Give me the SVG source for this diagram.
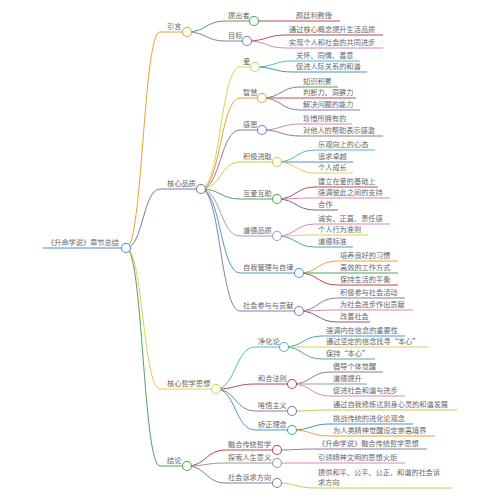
<svg xmlns="http://www.w3.org/2000/svg" width="500" height="500" viewBox="0 0 500 500">
<style>
text{font-family:"Noto Sans CJK SC","Noto Sans",sans-serif;font-size:7.2px;fill:#666}
path,line{fill:none;stroke-width:1}
circle{fill:#fff;stroke-width:1.1}
.blue{stroke:#4f8fb5}.orange{stroke:#e6a23c}.slate{stroke:#6f7ea8}.yellow{stroke:#dccf55}
.green{stroke:#55a05a}.red{stroke:#b84c52}.pink{stroke:#d48ab2}.purple{stroke:#8a7ca6}
.dpurple{stroke:#7a6090}.cyan{stroke:#4fb8cc}.teal{stroke:#4aa0b8}.ygreen{stroke:#c4cc55}
.grey{stroke:#999}.tgreen{stroke:#5aa8a0}.lpurple{stroke:#a898c0}
</style>
<rect width="500" height="500" fill="#fff"/>
<g id="connectors">
<path class="orange" d="M126,248 C143,248 143,32 160,32"/>
<path class="slate" d="M126,248 C143,248 143,189 160,189"/>
<path class="yellow" d="M126,248 C143,248 143,389 160,389"/>
<path class="green" d="M126,248 C143,248 143,466 160,466"/>
<path class="green" d="M187,32 C206,32 206,21 225,21"/>
<path class="purple" d="M187,32 C206,32 206,41 225,41"/>
<path class="red" d="M254,21 L293,21"/>
<path class="red" d="M247,41 C266.5,41 266.5,35 286,35"/>
<path class="pink" d="M247,41 C266.5,41 266.5,48 286,48"/>
<path class="yellow" d="M201,189 C220.5,189 220.5,67 240,67"/>
<path class="orange" d="M201,189 C220.5,189 220.5,98 240,98"/>
<path class="purple" d="M201,189 C220.5,189 220.5,130 240,130"/>
<path class="ygreen" d="M201,189 C220.5,189 220.5,162 240,162"/>
<path class="green" d="M201,189 C220.5,189 220.5,199 240,199"/>
<path class="lpurple" d="M201,189 C220.5,189 220.5,236 240,236"/>
<path class="teal" d="M201,189 C220.5,189 220.5,273 240,273"/>
<path class="purple" d="M201,189 C220.5,189 220.5,311 240,311"/>
<path class="cyan" d="M255,67 C274,67 274,61 293,61"/>
<path class="blue" d="M255,67 C274,67 274,72 293,72"/>
<path class="green" d="M262,98 C281,98 281,87 300,87"/>
<path class="red" d="M262,98 C281,98 281,98 300,98"/>
<path class="purple" d="M262,98 C281,98 281,110 300,110"/>
<path class="pink" d="M262,130 C281,130 281,124 300,124"/>
<path class="purple" d="M262,130 C281,130 281,136 300,136"/>
<path class="cyan" d="M277,162 C296,162 296,150 315,150"/>
<path class="blue" d="M277,162 C296,162 296,162 315,162"/>
<path class="yellow" d="M277,162 C296,162 296,173 315,173"/>
<path class="red" d="M277,199 C296,199 296,187 315,187"/>
<path class="pink" d="M277,199 C296,199 296,198 315,198"/>
<path class="dpurple" d="M277,199 C296,199 296,210 315,210"/>
<path class="pink" d="M277,236 C296,236 296,224 315,224"/>
<path class="yellow" d="M277,236 C296,236 296,235 315,235"/>
<path class="teal" d="M277,236 C296,236 296,247 315,247"/>
<path class="orange" d="M299,273 C318,273 318,261 337,261"/>
<path class="green" d="M299,273 C318,273 318,273 337,273"/>
<path class="red" d="M299,273 C318,273 318,285 337,285"/>
<path class="purple" d="M299,311 C318,311 318,298 337,298"/>
<path class="pink" d="M299,311 C318,311 318,310 337,310"/>
<path class="dpurple" d="M299,311 C318,311 318,322 337,322"/>
<path class="cyan" d="M216,389 C235.5,389 235.5,347 255,347"/>
<path class="red" d="M216,389 C235.5,389 235.5,384 255,384"/>
<path class="purple" d="M216,389 C235.5,389 235.5,411 255,411"/>
<path class="teal" d="M216,389 C235.5,389 235.5,430 255,430"/>
<path class="teal" d="M284,347 C303,347 303,336 322,336"/>
<path class="yellow" d="M284,347 C303,347 303,347 322,347"/>
<path class="tgreen" d="M284,347 C303,347 303,359 322,359"/>
<path class="purple" d="M292,384 C311,384 311,372 330,372"/>
<path class="grey" d="M292,384 C311,384 311,384 330,384"/>
<path class="pink" d="M292,384 C311,384 311,396 330,396"/>
<path class="ygreen" d="M292,411 C311,411 311,410 330,410"/>
<path class="blue" d="M292,430 C311,430 311,424 330,424"/>
<path class="orange" d="M292,430 C311,430 311,436 330,436"/>
<path class="red" d="M187,466 C206,466 206,450 225,450"/>
<path class="grey" d="M187,466 C206,466 206,463 225,463"/>
<path class="purple" d="M187,466 C206,466 206,483 225,483"/>
<path class="purple" d="M277,450 C296,450 296,449 315,449"/>
<path class="pink" d="M277,463 C296,463 296,463 315,463"/>
<path class="ygreen" d="M277,483 C296,483 296,488 315,488"/>
</g>
<g id="root"><line class="blue" x1="43" y1="248" x2="121.5" y2="248"/><circle class="blue" cx="126" cy="248" r="4.5"/><text x="83" y="245" text-anchor="middle">《升命学说》章节总结</text></g>
<g id="n-yinyan"><line class="orange" x1="160" y1="32" x2="182.5" y2="32"/><circle class="orange" cx="187" cy="32" r="4.5"/><text x="167" y="29">引言</text></g>
<g id="n-tichuzhe"><line class="green" x1="225" y1="21" x2="249.5" y2="21"/><circle class="green" cx="254" cy="21" r="4.5"/><text x="228" y="18">提出者</text></g>
<g id="n-yan"><line class="red" x1="293" y1="21" x2="340" y2="21"/><text x="296" y="18">颜廷利教授</text></g>
<g id="n-mubiao"><line class="purple" x1="225" y1="41" x2="242.5" y2="41"/><circle class="purple" cx="247" cy="41" r="4.5"/><text x="228" y="38">目标</text></g>
<g id="n-mb1"><line class="red" x1="286" y1="35" x2="383" y2="35"/><text x="289" y="32">通过核心概念提升生活品质</text></g>
<g id="n-mb2"><line class="pink" x1="286" y1="48" x2="383" y2="48"/><text x="289" y="45">实现个人和社会的共同进步</text></g>
<g id="n-hexin"><line class="slate" x1="160" y1="189" x2="196.5" y2="189"/><circle class="slate" cx="201" cy="189" r="4.5"/><text x="167" y="186">核心品质</text></g>
<g id="n-ai"><line class="yellow" x1="240" y1="67" x2="250.5" y2="67"/><circle class="yellow" cx="255" cy="67" r="4.5"/><text x="243" y="64">爱</text></g>
<g id="n-ai1"><line class="cyan" x1="293" y1="61" x2="360" y2="61"/><text x="296" y="58">关怀、同情、善意</text></g>
<g id="n-ai2"><line class="blue" x1="293" y1="72" x2="367" y2="72"/><text x="296" y="69">促进人际关系的和谐</text></g>
<g id="n-zh"><line class="orange" x1="240" y1="98" x2="257.5" y2="98"/><circle class="orange" cx="262" cy="98" r="4.5"/><text x="243" y="95">智慧</text></g>
<g id="n-zh1"><line class="green" x1="300" y1="87" x2="338" y2="87"/><text x="303" y="84">知识积累</text></g>
<g id="n-zh2"><line class="red" x1="300" y1="98" x2="356" y2="98"/><text x="303" y="95">判断力、洞察力</text></g>
<g id="n-zh3"><line class="purple" x1="300" y1="110" x2="360" y2="110"/><text x="303" y="107">解决问题的能力</text></g>
<g id="n-ge"><line class="purple" x1="240" y1="130" x2="257.5" y2="130"/><circle class="purple" cx="262" cy="130" r="4.5"/><text x="243" y="127">感恩</text></g>
<g id="n-ge1"><line class="pink" x1="300" y1="124" x2="352" y2="124"/><text x="303" y="121">珍惜所拥有的</text></g>
<g id="n-ge2"><line class="purple" x1="300" y1="136" x2="383" y2="136"/><text x="303" y="133">对他人的帮助表示感激</text></g>
<g id="n-jj"><line class="ygreen" x1="240" y1="162" x2="272.5" y2="162"/><circle class="ygreen" cx="277" cy="162" r="4.5"/><text x="243" y="159">积极进取</text></g>
<g id="n-jj1"><line class="cyan" x1="315" y1="150" x2="375" y2="150"/><text x="318" y="147">乐观向上的心态</text></g>
<g id="n-jj2"><line class="blue" x1="315" y1="162" x2="353" y2="162"/><text x="318" y="159">追求卓越</text></g>
<g id="n-jj3"><line class="yellow" x1="315" y1="173" x2="353" y2="173"/><text x="318" y="170">个人成长</text></g>
<g id="n-ha"><line class="green" x1="240" y1="199" x2="272.5" y2="199"/><circle class="green" cx="277" cy="199" r="4.5"/><text x="243" y="196">互爱互助</text></g>
<g id="n-ha1"><line class="red" x1="315" y1="187" x2="378" y2="187"/><text x="318" y="184">建立在爱的基础上</text></g>
<g id="n-ha2"><line class="pink" x1="315" y1="198" x2="390" y2="198"/><text x="318" y="195">强调彼此之间的支持</text></g>
<g id="n-ha3"><line class="dpurple" x1="315" y1="210" x2="338" y2="210"/><text x="318" y="207">合作</text></g>
<g id="n-dd"><line class="lpurple" x1="240" y1="236" x2="272.5" y2="236"/><circle class="lpurple" cx="277" cy="236" r="4.5"/><text x="243" y="233">道德品质</text></g>
<g id="n-dd1"><line class="pink" x1="315" y1="224" x2="390" y2="224"/><text x="318" y="221">诚实、正直、责任感</text></g>
<g id="n-dd2"><line class="yellow" x1="315" y1="235" x2="368" y2="235"/><text x="318" y="232">个人行为准则</text></g>
<g id="n-dd3"><line class="teal" x1="315" y1="247" x2="353" y2="247"/><text x="318" y="244">道德标准</text></g>
<g id="n-zw"><line class="teal" x1="240" y1="273" x2="294.5" y2="273"/><circle class="teal" cx="299" cy="273" r="4.5"/><text x="243" y="270">自我管理与自律</text></g>
<g id="n-zw1"><line class="orange" x1="337" y1="261" x2="398" y2="261"/><text x="340" y="258">培养良好的习惯</text></g>
<g id="n-zw2"><line class="green" x1="337" y1="273" x2="398" y2="273"/><text x="340" y="270">高效的工作方式</text></g>
<g id="n-zw3"><line class="red" x1="337" y1="285" x2="398" y2="285"/><text x="340" y="282">保持生活的平衡</text></g>
<g id="n-sh"><line class="purple" x1="240" y1="311" x2="294.5" y2="311"/><circle class="purple" cx="299" cy="311" r="4.5"/><text x="243" y="308">社会参与与贡献</text></g>
<g id="n-sh1"><line class="purple" x1="337" y1="298" x2="405" y2="298"/><text x="340" y="295">积极参与社会活动</text></g>
<g id="n-sh2"><line class="pink" x1="337" y1="310" x2="413" y2="310"/><text x="340" y="307">为社会进步作出贡献</text></g>
<g id="n-sh3"><line class="dpurple" x1="337" y1="322" x2="370" y2="322"/><text x="340" y="319">改善社会</text></g>
<g id="n-zx"><line class="yellow" x1="160" y1="389" x2="211.5" y2="389"/><circle class="yellow" cx="216" cy="389" r="4.5"/><text x="167" y="386">核心哲学思想</text></g>
<g id="n-jh"><line class="cyan" x1="255" y1="347" x2="279.5" y2="347"/><circle class="cyan" cx="284" cy="347" r="4.5"/><text x="258" y="344">净化论</text></g>
<g id="n-jh1"><line class="teal" x1="322" y1="336" x2="405" y2="336"/><text x="326" y="333">强调内在信念的重要性</text></g>
<g id="n-jh2"><line class="yellow" x1="322" y1="347" x2="428" y2="347"/><text x="326" y="344">通过坚定的信念找寻“本心”</text></g>
<g id="n-jh3"><line class="tgreen" x1="322" y1="359" x2="375" y2="359"/><text x="326" y="356">保持“本心”</text></g>
<g id="n-hh"><line class="red" x1="255" y1="384" x2="287.5" y2="384"/><circle class="red" cx="292" cy="384" r="4.5"/><text x="258" y="381">和合法则</text></g>
<g id="n-hh1"><line class="purple" x1="330" y1="372" x2="383" y2="372"/><text x="333" y="369">倡导个体觉醒</text></g>
<g id="n-hh2"><line class="grey" x1="330" y1="384" x2="367" y2="384"/><text x="333" y="381">道德提升</text></g>
<g id="n-hh3"><line class="pink" x1="330" y1="396" x2="405" y2="396"/><text x="333" y="393">促进社会和谐与进步</text></g>
<g id="n-ww"><line class="purple" x1="255" y1="411" x2="287.5" y2="411"/><circle class="purple" cx="292" cy="411" r="4.5"/><text x="258" y="408">唯悟主义</text></g>
<g id="n-ww1"><line class="ygreen" x1="330" y1="410" x2="457" y2="410"/><text x="333" y="407">通过自我修炼达到身心灵的和谐发展</text></g>
<g id="n-jz"><line class="teal" x1="255" y1="430" x2="287.5" y2="430"/><circle class="teal" cx="292" cy="430" r="4.5"/><text x="258" y="427">矫正理念</text></g>
<g id="n-jz1"><line class="blue" x1="330" y1="424" x2="413" y2="424"/><text x="333" y="421">挑战传统的进化论观念</text></g>
<g id="n-jz2"><line class="orange" x1="330" y1="436" x2="435" y2="436"/><text x="333" y="433">为人类精神觉醒设定崇高境界</text></g>
<g id="n-jl"><line class="green" x1="160" y1="466" x2="182.5" y2="466"/><circle class="green" cx="187" cy="466" r="4.5"/><text x="167" y="463">结论</text></g>
<g id="n-rh"><line class="red" x1="225" y1="450" x2="272.5" y2="450"/><circle class="red" cx="277" cy="450" r="4.5"/><text x="228" y="447">融合传统哲学</text></g>
<g id="n-rh1"><line class="purple" x1="315" y1="449" x2="427" y2="449"/><text x="318" y="446">《升命学说》融合传统哲学思想</text></g>
<g id="n-ts"><line class="grey" x1="225" y1="463" x2="272.5" y2="463"/><circle class="grey" cx="277" cy="463" r="4.5"/><text x="228" y="460">探索人生意义</text></g>
<g id="n-ts1"><line class="pink" x1="315" y1="463" x2="405" y2="463"/><text x="318" y="460">引领精神文明的思想火炬</text></g>
<g id="n-ss"><line class="purple" x1="225" y1="483" x2="272.5" y2="483"/><circle class="purple" cx="277" cy="483" r="4.5"/><text x="228" y="480">社会诉求方向</text></g>
<g id="n-ss1"><line class="ygreen" x1="315" y1="488" x2="452" y2="488"/><text x="318" y="475">提供和平、公平、公正、和谐的社会诉</text><text x="318" y="485">求方向</text></g>
</svg>
